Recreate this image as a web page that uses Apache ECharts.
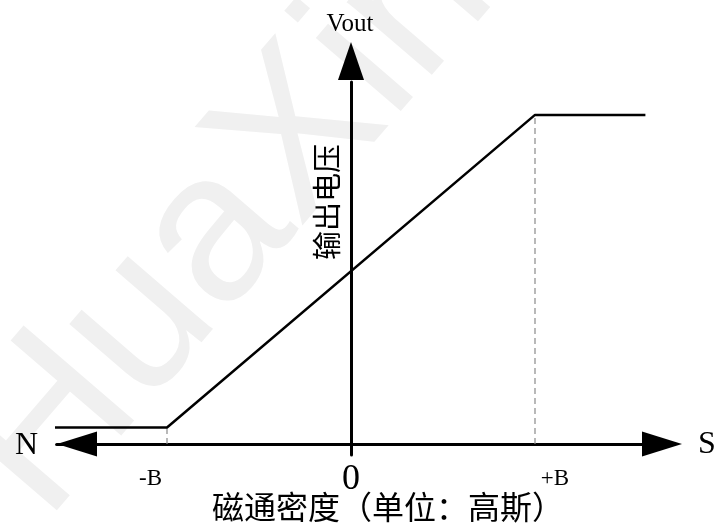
<!DOCTYPE html>
<html>
<head>
<meta charset="utf-8">
<script src="https://cdn.jsdelivr.net/npm/echarts@6/dist/echarts.min.js"></script>
<style>
html,body{margin:0;padding:0;background:#fff;}
#chart{width:715px;height:525px;}
</style>
</head>
<body>
<div id="chart"></div>
<script>
// ---- data ----
const xTickValues = [-1, 0, 1];
const xTickLabels = ['-B', '0', '+B'];
const curveX = [-1.62, -1, 1, 1.6];
const curveY = [0.5, 0.5, 10, 10];
const guideX = [-1, 1];
const guideTop = [0.5, 10];
const xAxisTitle = '磁通密度（单位：高斯）';
const yAxisTitle = '输出电压';
const yAxisEnd = 'Vout';
const xAxisStart = 'N';
const xAxisEnd = 'S';
const watermark = 'HuaXin';

const chart = echarts.init(document.getElementById('chart'));

const curveData = curveX.map((x, i) => [x, curveY[i]]);
const guideSeries = guideX.map((x, i) => ({
  type: 'line',
  data: [[x, 0], [x, guideTop[i]]],
  symbol: 'none',
  silent: true,
  clip: false,
  z: 1,
  lineStyle: { color: '#8a8a8a', width: 1.2, type: [6, 4] }
}));

const serif = 'Liberation Serif, Times New Roman, serif';

const option = {
  backgroundColor: '#ffffff',
  animation: false,
  grid: { left: 56.6, right: 715 - 645.4, top: 82, bottom: 70, containLabel: false },
  xAxis: {
    type: 'value',
    min: -1.6,
    max: 1.6,
    splitLine: { show: false },
    axisTick: { show: false },
    axisLine: {
      show: true,
      onZero: true,
      lineStyle: { color: '#000', width: 3 },
      symbol: ['triangle', 'triangle'],
      symbolSize: [25, 40],
      symbolOffset: [20.4, 16.6]
    },
    axisLabel: {
      show: true,
      customValues: xTickValues,
      margin: 7,
      color: '#000',
      fontFamily: serif,
      formatter: function (v) {
        const idx = xTickValues.indexOf(v);
        const t = xTickLabels[idx];
        if (idx === 0) return '{n|' + t + '}';
        if (idx === 2) return '{p|' + t + '}';
        return '{z|' + t + '}';
      },
      rich: {
        n: { fontSize: 23, fontFamily: serif, color: '#000', padding: [5, 33, 0, 0] },
        z: { fontSize: 36, fontFamily: serif, color: '#000', padding: [0, 0, 0, 0] },
        p: { fontSize: 23, fontFamily: serif, color: '#000', padding: [5, 0, 0, 40] }
      }
    }
  },
  yAxis: {
    type: 'value',
    min: -1 / 3,
    max: 11,
    splitLine: { show: false },
    axisTick: { show: false },
    axisLabel: { show: false },
    axisLine: {
      show: true,
      onZero: true,
      lineStyle: { color: '#000', width: 3 },
      symbol: ['none', 'triangle'],
      symbolSize: [26, 38],
      symbolOffset: [0, 21]
    }
  },
  graphic: [
    {
      type: 'text', x: 228, y: 222, rotation: 0.86, z: -10, silent: true,
      style: { text: watermark, fill: '#f0f0f0', font: '212px "Liberation Sans", Arial, sans-serif', textAlign: 'center', textVerticalAlign: 'middle' }
    },
    {
      type: 'text', x: 26.5, y: 445.5, z: 10,
      style: { text: xAxisStart, fill: '#000', font: '32px ' + serif, textAlign: 'center', textVerticalAlign: 'middle' }
    },
    {
      type: 'text', x: 707, y: 445, z: 10,
      style: { text: xAxisEnd, fill: '#000', font: '32px ' + serif, textAlign: 'center', textVerticalAlign: 'middle' }
    },
    {
      type: 'text', x: 350, y: 24, z: 10,
      style: { text: yAxisEnd, fill: '#000', font: '25px ' + serif, textAlign: 'center', textVerticalAlign: 'middle' }
    },
    {
      type: 'text', x: 327, y: 202, rotation: Math.PI / 2, z: 10,
      style: { text: yAxisTitle, fill: '#000', font: '29px "Noto Sans CJK SC", sans-serif', textAlign: 'center', textVerticalAlign: 'middle' }
    },
    {
      type: 'text', x: 388, y: 507, z: 10,
      style: { text: xAxisTitle, fill: '#000', font: '32px "Noto Sans CJK SC", sans-serif', textAlign: 'center', textVerticalAlign: 'middle' }
    }
  ],
  series: [
    {
      type: 'line',
      data: curveData,
      symbol: 'none',
      silent: true,
      clip: false,
      z: 3,
      lineStyle: { color: '#000', width: 2.5 }
    }
  ].concat(guideSeries)
};

chart.setOption(option);
</script>
</body>
</html>
